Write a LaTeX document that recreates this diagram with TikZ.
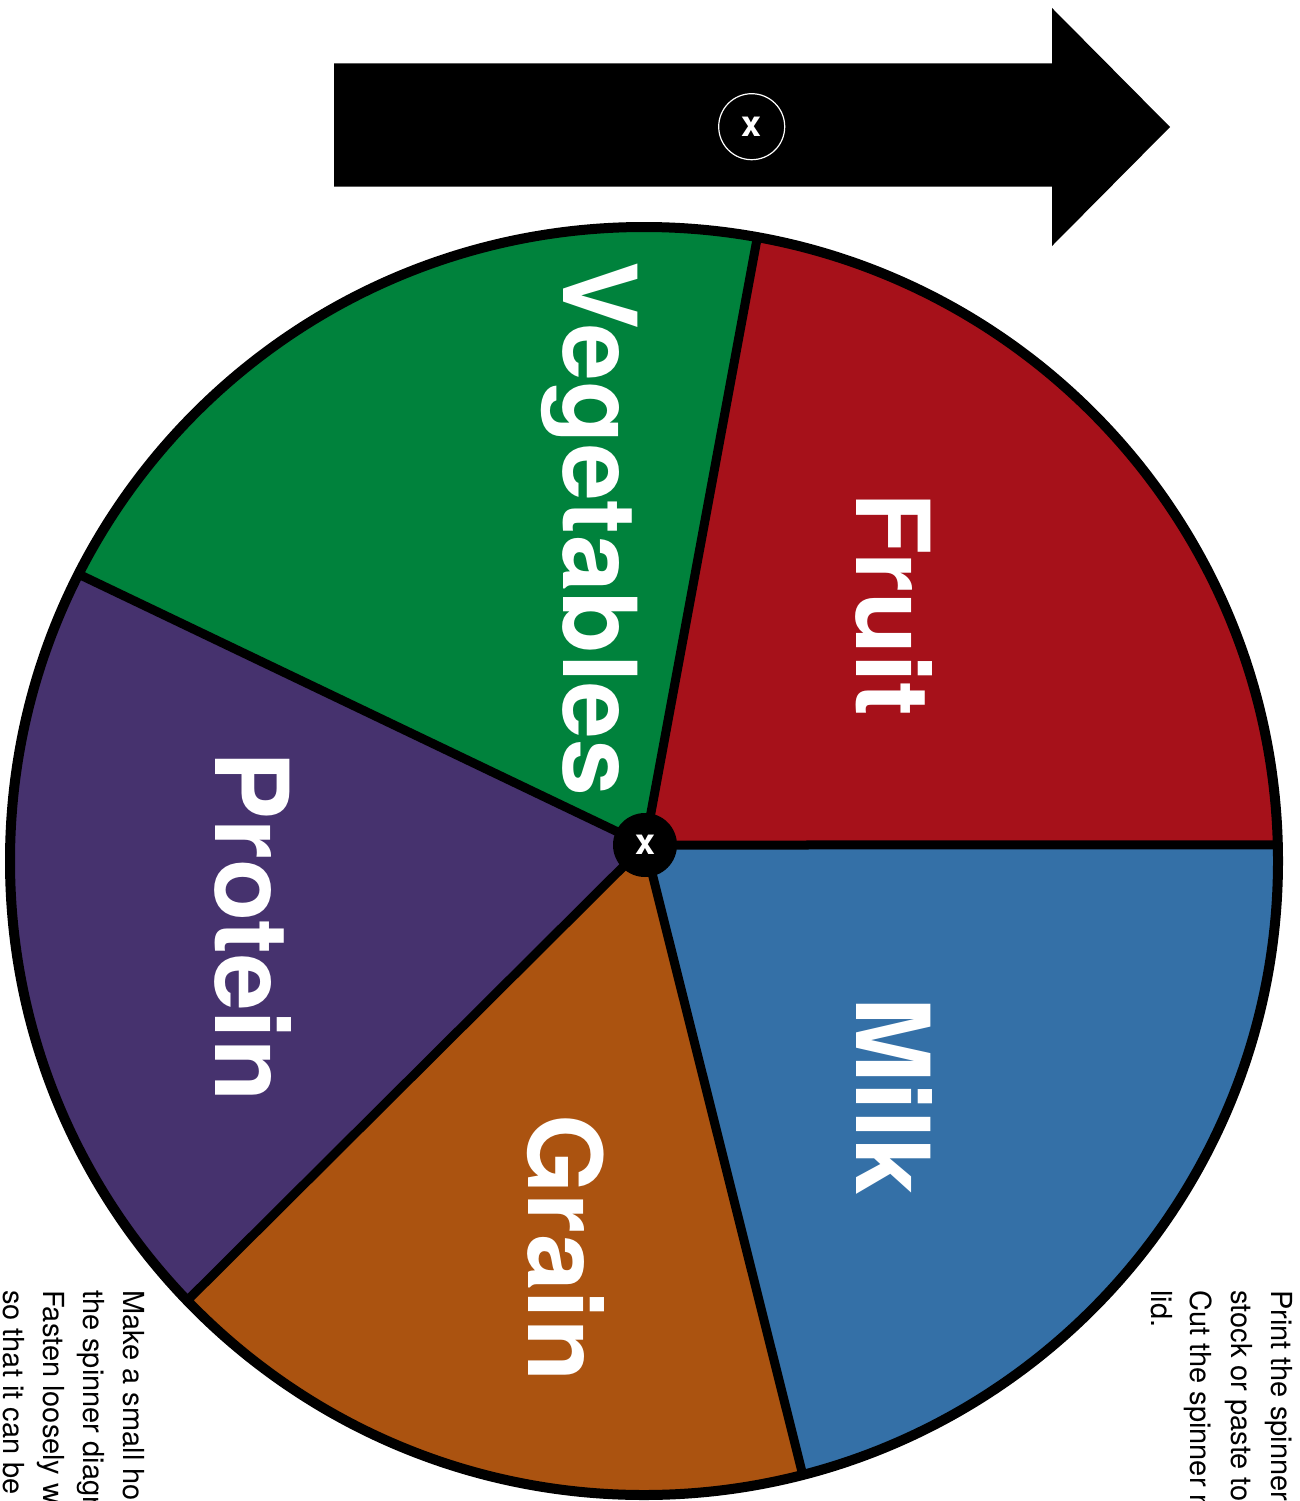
\documentclass[tikz,border=0pt]{standalone}
\usepackage{fontspec}
\setmainfont{TeX Gyre Heros}
\usetikzlibrary{calc}
\definecolor{fruitred}{RGB}{166,17,26}
\definecolor{veggreen}{RGB}{0,130,60}
\definecolor{protpurple}{RGB}{70,50,110}
\definecolor{grainbrown}{RGB}{171,83,16}
\definecolor{milkblue}{RGB}{52,112,167}
\begin{document}
\begin{tikzpicture}[x=1pt,y=1pt,
  biglabel/.style={text=white, font=\fontsize{102}{102}\selectfont\bfseries, rotate=-90, anchor=base, inner sep=0pt},
  note/.style={font=\fontsize{29}{29}\selectfont, rotate=-90, anchor=base west, inner sep=0pt},
  spoke/.style={line width=9pt, line cap=round},
  pinx/.style={text=white, font=\fontsize{36}{36}\selectfont\bfseries, inner sep=0pt}]
\useasboundingbox (0,0) rectangle (1299,-1501);
\clip (0,0) rectangle (1299,-1501);
\def\R{634}
\coordinate (C) at (644,-861);
\coordinate (H) at (645,-845);
\coordinate (P0) at ($(C)+(1.45:\R)$);
\coordinate (P1) at ($(C)+(79.7:\R)$);
\coordinate (P2) at ($(C)+(153.1:\R)$);
\coordinate (P3) at ($(C)+(223.9:\R)$);
\coordinate (P4) at ($(C)+(-75.5:\R)$);
% sectors
\fill[fruitred] (H) -- (P0) arc[start angle=1.45, end angle=79.7, radius=\R] -- cycle;
\fill[veggreen] (H) -- (P1) arc[start angle=79.7, end angle=153.1, radius=\R] -- cycle;
\fill[protpurple] (H) -- (P2) arc[start angle=153.1, end angle=223.9, radius=\R] -- cycle;
\fill[grainbrown] (H) -- (P3) arc[start angle=223.9, end angle=284.5, radius=\R] -- cycle;
\fill[milkblue] (H) -- (P4) arc[start angle=-75.5, end angle=1.45, radius=\R] -- cycle;
% spokes
\foreach \p in {P0,P1,P2,P3,P4} \draw[spoke] (H) -- (\p);
% rim
\draw[line width=10pt] (C) circle[radius=\R];
% labels
\node[biglabel] (veg) at (563,-528.5) {Vegetables};
\node[biglabel] (fruit) at (856,-604.5) {Fruit};
\node[biglabel] (milk) at (856,-1096.5) {Milk};
\node[biglabel] (protein) at (215,-926.5) {Protein};
\node[biglabel] (grain) at (528,-1248) {Grain};
% hub
\node[circle, fill=black, minimum size=64pt, inner sep=0pt] (hub) at (H) {};
\node[pinx] (hubx) at (hub) {x};
% arrow
\fill[black] (334,-63.5) -- (1052,-63.5) -- (1052,-8) -- (1170,-127) -- (1052,-246) -- (1052,-186.5) -- (334,-186.5) -- cycle;
\node[circle, draw=white, line width=1.2pt, minimum size=66pt, inner sep=0pt] (pin) at (751.7,-126.7) {};
\node[pinx] (pinxt) at (pin) {x};
% notes left
\node[note] (l1) at (123.3,-1290) {Make a small hole};
\node[note] (l2) at (83.3,-1290) {the spinner diagram};
\node[note] (l3) at (43.3,-1290) {Fasten loosely with};
\node[note] (l4) at (3.3,-1290) {so that it can be};
% notes right
\node[note] (r1) at (1271.7,-1290) {Print the spinner};
\node[note] (r2) at (1231,-1290) {stock or paste to};
\node[note] (r3) at (1190,-1290) {Cut the spinner neatly};
\node[note] (r4) at (1151.7,-1290) {lid.};
\end{tikzpicture}
\end{document}
